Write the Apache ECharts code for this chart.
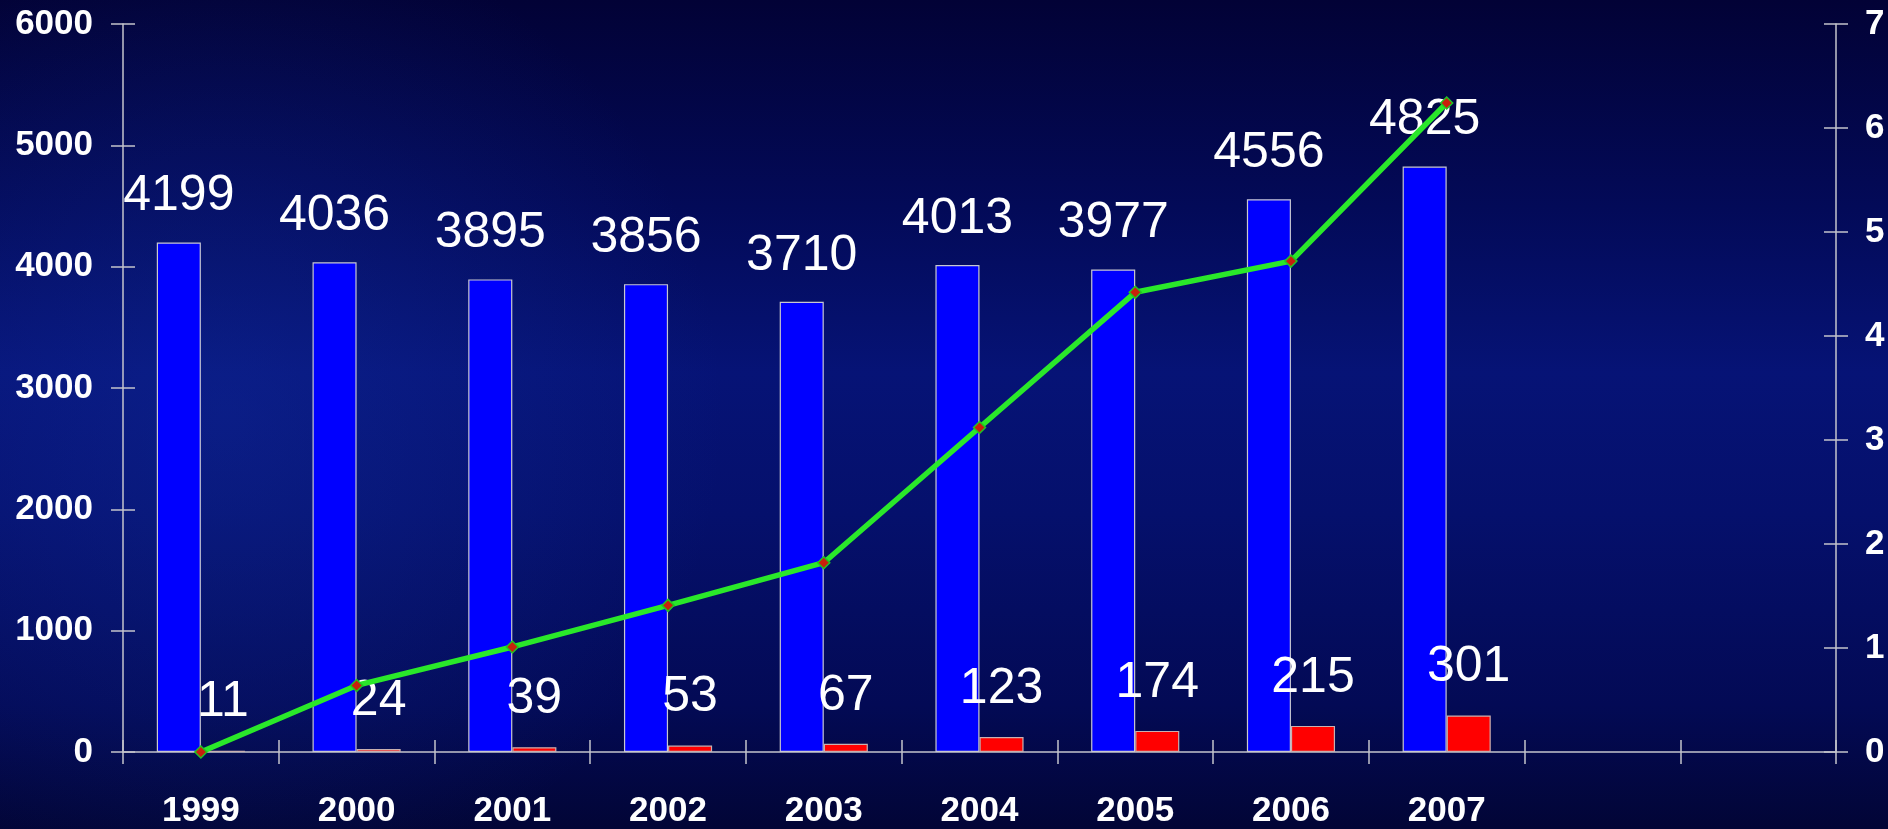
<!DOCTYPE html>
<html>
<head>
<meta charset="utf-8">
<script src="https://cdn.jsdelivr.net/npm/echarts@6/dist/echarts.min.js"></script>
<style>
  html, body { margin: 0; padding: 0; background: #03083f; }
  #chart { width: 1888px; height: 829px; }
</style>
</head>
<body>
<div id="chart"></div>
<script>
// Years on the category axis (two trailing empty slots keep the axis span)
const years = ['1999', '2000', '2001', '2002', '2003', '2004', '2005', '2006', '2007', '', ''];
// Blue bars (left axis)
const totalValues = [4199, 4036, 3895, 3856, 3710, 4013, 3977, 4556, 4825];
// Red bars (left axis)
const partValues = [11, 24, 39, 53, 67, 123, 174, 215, 301];
// Green line (right axis)
const ratioValues = [0, 0.64, 1.01, 1.41, 1.82, 3.12, 4.42, 4.72, 6.24];
// Tick ranges
const leftMax = 6000, leftStep = 1000;
const rightMax = 7, rightStep = 1;

const FONT = "'Liberation Sans', Arial, sans-serif";
const axisColor = '#c4c4cc';

const chart = echarts.init(document.getElementById('chart'), null, { renderer: 'canvas' });

const grid = { left: 123, right: 52, top: 24, bottom: 77 };

const valueLabel = {
  show: true,
  position: 'top',
  distance: 21,
  color: '#ffffff',
  fontFamily: FONT,
  fontSize: 50,
  fontWeight: 'normal'
};

const tickLabel = {
  color: '#ffffff', fontFamily: FONT, fontSize: 35, fontWeight: 'bold',
  formatter: function (v) { return String(v); }
};

chart.setOption({
  backgroundColor: {
    type: 'linear', x: 0, y: 0, x2: 0, y2: 1,
    colorStops: [
      { offset: 0, color: '#020236' },
      { offset: 0.25, color: '#030a58' },
      { offset: 0.45, color: '#061376' },
      { offset: 0.62, color: '#05106c' },
      { offset: 0.85, color: '#030a55' },
      { offset: 1, color: '#020536' }
    ]
  },
  graphic: [{
    type: 'rect',
    silent: true,
    z: -10,
    shape: { x: 0, y: 0, width: 1888, height: 829 },
    style: {
      fill: {
        type: 'radial', x: 0.12, y: 0.5, r: 0.6,
        colorStops: [
          { offset: 0, color: 'rgba(20,50,170,0.35)' },
          { offset: 1, color: 'rgba(20,50,170,0)' }
        ]
      }
    }
  }],
  animation: false,
  grid: grid,
  xAxis: [{
    type: 'category',
    data: years,
    boundaryGap: true,
    axisLine: { lineStyle: { color: axisColor, width: 1.5 } },
    axisTick: { show: true, inside: false, length: 12, alignWithLabel: false,
                lineStyle: { color: axisColor, width: 1.5 } },
    axisLabel: Object.assign({}, tickLabel, { margin: 42, interval: 0 }),
    splitLine: { show: false }
  }, {
    // twin axis that draws the upward half of each tick
    type: 'category',
    data: years,
    position: 'bottom',
    boundaryGap: true,
    axisLine: { show: false },
    axisTick: { show: true, inside: true, length: 12, lineStyle: { color: axisColor, width: 1.5 } },
    axisLabel: { show: false },
    splitLine: { show: false }
  }],
  yAxis: [{
    type: 'value',
    min: 0, max: leftMax, interval: leftStep,
    position: 'left',
    axisLine: { show: true, lineStyle: { color: axisColor, width: 1.5 } },
    axisTick: { show: true, inside: false, length: 12, lineStyle: { color: axisColor, width: 1.5 } },
    axisLabel: Object.assign({}, tickLabel, { margin: 30 }),
    splitLine: { show: false }
  }, {
    type: 'value',
    min: 0, max: rightMax, interval: rightStep,
    position: 'right',
    axisLine: { show: true, lineStyle: { color: axisColor, width: 1.5 } },
    axisTick: { show: true, inside: false, length: 12, lineStyle: { color: axisColor, width: 1.5 } },
    axisLabel: Object.assign({}, tickLabel, { margin: 29 }),
    splitLine: { show: false }
  }, {
    // inner half of the left ticks
    type: 'value',
    min: 0, max: leftMax, interval: leftStep,
    position: 'left',
    axisLine: { show: false },
    axisTick: { show: true, inside: true, length: 12, lineStyle: { color: axisColor, width: 1.5 } },
    axisLabel: { show: false },
    splitLine: { show: false }
  }, {
    // inner half of the right ticks
    type: 'value',
    min: 0, max: rightMax, interval: rightStep,
    position: 'right',
    axisLine: { show: false },
    axisTick: { show: true, inside: true, length: 12, lineStyle: { color: axisColor, width: 1.5 } },
    axisLabel: { show: false },
    splitLine: { show: false }
  }],
  series: [{
    name: 'total',
    type: 'bar',
    xAxisIndex: 0,
    yAxisIndex: 0,
    data: totalValues,
    barWidth: '28.3%',
    barGap: '0%',
    itemStyle: { color: '#0000ff', borderColor: '#c8c8d0', borderWidth: 1.2 },
    label: valueLabel,
    z: 2
  }, {
    name: 'part',
    type: 'bar',
    xAxisIndex: 0,
    yAxisIndex: 0,
    data: partValues,
    barWidth: '28.3%',
    barGap: '0%',
    itemStyle: { color: '#ff0000', borderColor: '#c8b0b0', borderWidth: 1.2 },
    label: Object.assign({}, valueLabel, { distance: 23 }),
    z: 2
  }, {
    name: 'ratio',
    type: 'line',
    xAxisIndex: 0,
    yAxisIndex: 1,
    data: ratioValues,
    symbol: 'diamond',
    symbolSize: 12,
    showAllSymbol: true,
    lineStyle: { color: '#2ae82a', width: 5.5 },
    itemStyle: { color: '#c8200c', borderColor: '#22c422', borderWidth: 1.5 },
    z: 5
  }]
});
</script>
</body>
</html>
